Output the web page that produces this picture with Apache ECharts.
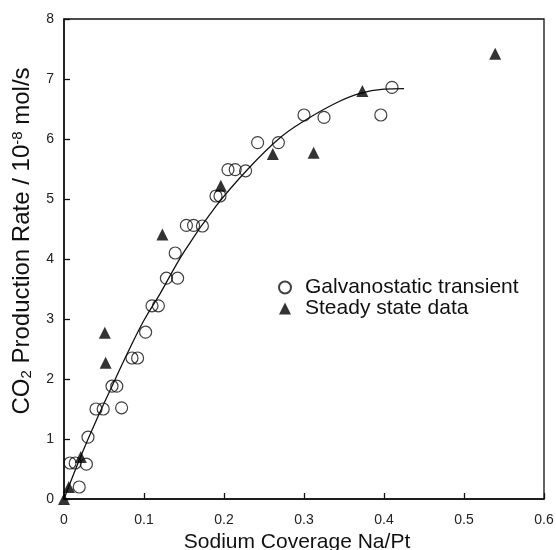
<!DOCTYPE html>
<html>
<head>
<meta charset="utf-8">
<script src="https://cdn.jsdelivr.net/npm/echarts@6/dist/echarts.min.js"></script>
<style>
html,body{margin:0;padding:0;background:#fff;}
#chart{width:556px;height:550px;}
</style>
</head>
<body>
<div id="chart"></div>
<script>
// Galvanostatic transient (open circles): [Na/Pt coverage, CO2 rate]
const galvanostatic = [
  [0.0075,0.60],[0.014,0.60],[0.028,0.58],[0.019,0.20],[0.030,1.03],
  [0.040,1.50],[0.049,1.50],[0.072,1.52],[0.060,1.88],[0.066,1.88],
  [0.085,2.35],[0.092,2.35],[0.102,2.78],[0.110,3.22],[0.118,3.22],
  [0.128,3.68],[0.142,3.68],[0.139,4.10],[0.153,4.56],[0.162,4.56],
  [0.173,4.55],[0.190,5.05],[0.195,5.05],[0.205,5.49],[0.214,5.49],
  [0.227,5.47],[0.242,5.94],[0.268,5.94],[0.300,6.40],[0.325,6.36],
  [0.396,6.40],[0.410,6.86]
];
// Steady state data (filled triangles)
const steadyState = [
  [0.000,0.00],[0.006,0.20],[0.021,0.70],[0.052,2.27],[0.051,2.77],
  [0.123,4.41],[0.196,5.22],[0.261,5.75],[0.312,5.77],[0.373,6.80],
  [0.539,7.42]
];
// Fitted curve, points
const fitX = [0, 0.02, 0.04, 0.06, 0.08, 0.10, 0.12, 0.15, 0.19, 0.23, 0.27, 0.30, 0.34, 0.37, 0.40, 0.425];
const fitY = [0, 0.68, 1.30, 1.88, 2.45, 2.98, 3.42, 4.12, 4.88, 5.50, 6.02, 6.30, 6.60, 6.76, 6.83, 6.84];
const xTicks = [0, 0.1, 0.2, 0.3, 0.4, 0.5, 0.6];
const yTicks = [0, 1, 2, 3, 4, 5, 6, 7, 8];

const FONT = '"Liberation Sans", Arial, sans-serif';
const chart = echarts.init(document.getElementById('chart'));
const fitData = fitX.map((x, i) => [x, fitY[i]]);

chart.setOption({
  backgroundColor: '#fff',
  animation: false,
  grid: { left: 64, right: 12, top: 19, bottom: 51, containLabel: false, outerBoundsMode: 'none',
    show: true, borderColor: '#111', borderWidth: 1.3 },
  legend: {
    data: ['Galvanostatic transient', 'Steady state data'],
    orient: 'vertical',
    left: 273, top: 272,
    itemWidth: 12, itemHeight: 12, itemGap: 0,
    textStyle: { fontFamily: FONT, fontSize: 21, lineHeight: 21, color: '#111', padding: [0, 0, 0, 9] }
  },
  xAxis: {
    type: 'value', min: 0, max: 0.6, interval: 0.1,
    name: 'Sodium Coverage Na/Pt', nameLocation: 'middle', nameGap: 33,
    nameTextStyle: { fontFamily: FONT, fontSize: 21, color: '#111', padding: [0, 14, 0, 0] },
    axisLine: { lineStyle: { color: '#111', width: 1.5 } },
    axisTick: { inside: true, length: 6, lineStyle: { color: '#111', width: 1.3 } },
    axisLabel: { fontFamily: FONT, fontSize: 14, color: '#222', margin: 14,
      formatter: v => { const t = xTicks.find(k => Math.abs(k - v) < 1e-9); return t === undefined ? '' : String(t); } },
    splitLine: { show: false }
  },
  yAxis: {
    type: 'value', min: 0, max: 8, interval: 1,
    name: '{a|CO}{sub|2}{a| Production Rate / 10}{sup|-8}{a| mol/s}',
    nameLocation: 'middle', nameGap: 30, nameRotate: 90,
    nameTextStyle: { fontFamily: FONT, fontSize: 24, color: '#111', padding: [0, 0, 0, 36],
      rich: {
        a: { fontFamily: FONT, fontSize: 24, color: '#111' },
        sub: { fontFamily: FONT, fontSize: 15, color: '#111', verticalAlign: 'bottom' },
        sup: { fontFamily: FONT, fontSize: 15, color: '#111', verticalAlign: 'top' }
      } },
    axisLine: { lineStyle: { color: '#111', width: 1.5 } },
    axisTick: { inside: true, length: 6, lineStyle: { color: '#111', width: 1.3 } },
    axisLabel: { fontFamily: FONT, fontSize: 14, color: '#222', margin: 10,
      formatter: v => { const t = yTicks.find(k => Math.abs(k - v) < 1e-9); return t === undefined ? '' : String(t); } },
    splitLine: { show: false }
  },
  series: [
    {
      name: 'Fit', type: 'line', data: fitData, smooth: 0.4, showSymbol: false,
      lineStyle: { color: '#111', width: 1.3 }, z: 1, silent: true
    },
    {
      name: 'Galvanostatic transient', type: 'scatter', data: galvanostatic,
      symbol: 'circle', symbolSize: 12, clip: false,
      itemStyle: { color: 'rgba(255,255,255,0)', borderColor: '#111', borderWidth: 1.2 }, z: 3
    },
    {
      name: 'Steady state data', type: 'scatter', data: steadyState,
      symbol: 'triangle', symbolSize: 12, clip: false,
      itemStyle: { color: '#000' }, z: 4
    }
  ]
});
</script>
</body>
</html>
